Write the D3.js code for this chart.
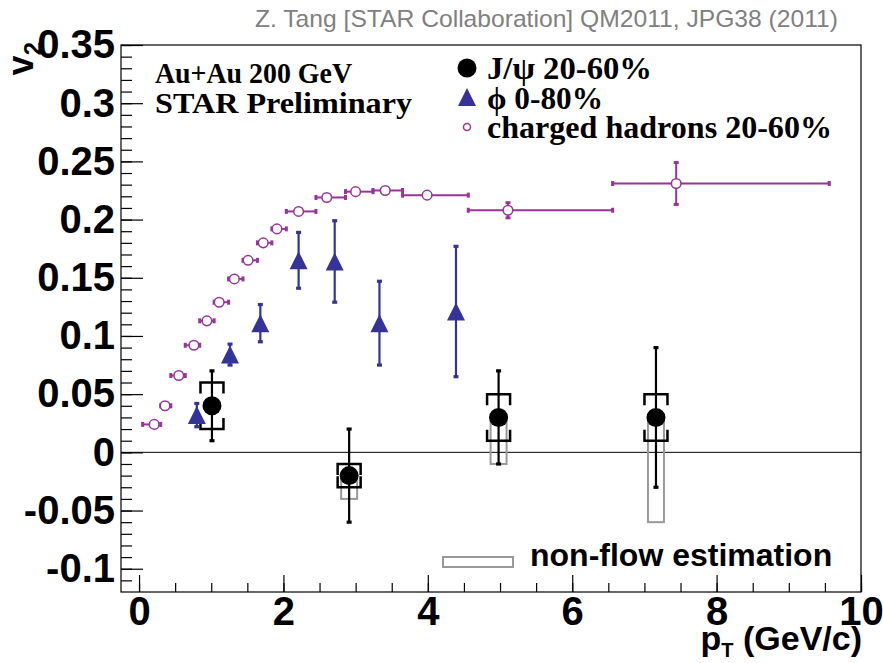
<!DOCTYPE html>
<html>
<head>
<meta charset="utf-8">
<script src="https://cdn.jsdelivr.net/npm/d3@7"></script>
<style>
  body { margin: 0; background: #fff; }
  svg { display: block; }
</style>
</head>
<body>
<script>
// --- charged hadrons 20-60%
var chPt = [0.21, 0.36, 0.55, 0.76, 0.94, 1.11, 1.32, 1.51, 1.72, 1.91, 2.21, 2.60, 3.00, 3.41, 3.99, 5.11, 7.44]
var chV2 = [0.024, 0.040, 0.066, 0.092, 0.113, 0.129, 0.149, 0.165, 0.180, 0.192, 0.207, 0.219, 0.224, 0.225, 0.221, 0.208, 0.231]
var chLo = [0.05, 0.30, 0.44, 0.64, 0.84, 1.04, 1.24, 1.44, 1.64, 1.84, 2.04, 2.45, 2.86, 3.24, 3.65, 4.56, 6.56]
var chHi = [0.30, 0.44, 0.64, 0.84, 1.04, 1.24, 1.44, 1.64, 1.84, 2.04, 2.45, 2.86, 3.24, 3.65, 4.56, 6.56, 9.56]
var chErr = [0.002, 0.002, 0.002, 0.002, 0.002, 0.002, 0.002, 0.002, 0.002, 0.002, 0.002, 0.002, 0.002, 0.002, 0.002, 0.0065, 0.018]

// --- phi 0-80%
var phiPt = [0.80, 1.26, 1.68, 2.21, 2.71, 3.33, 4.39]
var phiV2 = [0.032, 0.084, 0.111, 0.165, 0.164, 0.111, 0.121]
var phiErr = [0.010, 0.009, 0.016, 0.024, 0.035, 0.036, 0.056]

// --- J/psi 20-60%
var jpsiPt = [1.01, 2.91, 4.98, 7.16]
var jpsiV2 = [0.04, -0.02, 0.03, 0.03]
var jpsiErr = [0.03, 0.04, 0.04, 0.06]
var jpsiSys = [0.02, 0.01, 0.02, 0.02]
var nonFlow = [0, 0.02, 0.04, 0.09]

// --- axis ticks
var xTicks = [0, 2, 4, 6, 8, 10]
var yTicks = [-0.1, -0.05, 0, 0.05, 0.1, 0.15, 0.2, 0.25, 0.3, 0.35]
var yLabels = ['-0.1', '-0.05', '0', '0.05', '0.1', '0.15', '0.2', '0.25', '0.3', '0.35']

var W = 883, H = 663
var purple = '#993399', blue = '#333399', grey = '#999'
var sans = 'Liberation Sans, Arial, sans-serif'
var serif = 'Liberation Serif, Times New Roman, serif'

var x = d3.scaleLinear().domain([-0.25, 10]).range([121, 861])
var y = d3.scaleLinear().domain([-0.12, 0.35]).range([592, 45])

var svg = d3.select('body').append('svg')
    .attr('width', W).attr('height', H)

// header
svg.append('text')
    .attr('x', 255).attr('y', 27)
    .attr('textLength', 583).attr('lengthAdjust', 'spacingAndGlyphs')
    .style('font-family', sans)
    .style('font-size', '24px')
    .style('fill', '#808080')
    .text('Z. Tang [STAR Collaboration] QM2011, JPG38 (2011)')

// frame
svg.append('rect')
    .attr('x', x.range()[0]).attr('y', y.range()[1])
    .attr('width', x.range()[1] - x.range()[0])
    .attr('height', y.range()[0] - y.range()[1])
    .attr('fill', 'none').attr('stroke', '#000').attr('stroke-width', 1.2)

// axes, ticks pointing inside
var yMinor = d3.range(-0.11, 0.351, 0.01)
var xMinor = d3.range(0, 10.01, 0.5)

var gy = svg.append('g').attr('transform', 'translate(' + x.range()[0] + ',0)')
gy.call(d3.axisLeft(y).tickValues(yMinor).tickSizeInner(-11).tickSizeOuter(0).tickFormat(''))
gy.append('g').call(d3.axisLeft(y).tickValues(yTicks).tickSizeInner(-22).tickSizeOuter(0).tickPadding(6)
    .tickFormat(function (d, i) { return yLabels[i] }))

var gx = svg.append('g').attr('transform', 'translate(0,' + y.range()[0] + ')')
gx.call(d3.axisBottom(x).tickValues(xMinor).tickSizeInner(-9).tickSizeOuter(0).tickFormat(''))
gx.append('g').call(d3.axisBottom(x).tickValues(xTicks).tickSizeInner(-17).tickSizeOuter(0).tickPadding(5))

svg.selectAll('.domain').remove()
svg.selectAll('.tick line').attr('stroke', '#000').attr('stroke-width', 1.2)
svg.selectAll('.tick text')
    .style('font-family', sans)
    .style('font-weight', 'bold')
    .style('font-size', '40px')
    .attr('fill', '#000')

// axis titles
var xt = svg.append('text')
    .attr('x', 862).attr('y', 650)
    .attr('text-anchor', 'end')
    .style('font-family', sans)
    .style('font-weight', 'bold')
    .style('font-size', '34px')
xt.append('tspan').text('p')
xt.append('tspan').attr('dy', 7).style('font-size', '20px').text('T')
xt.append('tspan').attr('dy', -7).text(' (GeV/c)')

var yt = svg.append('text')
    .attr('transform', 'translate(33,42) rotate(-90)')
    .attr('text-anchor', 'end')
    .style('font-family', sans)
    .style('font-weight', 'bold')
    .style('font-size', '36px')
yt.append('tspan').text('v')
yt.append('tspan').attr('dy', 8).style('font-size', '24px').text('2')

// zero line
svg.append('line')
    .attr('x1', x.range()[0]).attr('x2', x.range()[1])
    .attr('y1', y(0)).attr('y2', y(0))
    .attr('stroke', '#000').attr('stroke-width', 1)

// non-flow boxes
var jp = d3.range(jpsiPt.length)
svg.append('g').selectAll('rect')
    .data(jp.filter(function (i) { return nonFlow[i] > 0 }))
    .enter().append('rect')
    .attr('x', function (i) { return x(jpsiPt[i]) - 8 })
    .attr('y', function (i) { return y(jpsiV2[i]) })
    .attr('width', 16)
    .attr('height', function (i) { return y(jpsiV2[i] - nonFlow[i]) - y(jpsiV2[i]) })
    .attr('fill', 'none').attr('stroke', grey).attr('stroke-width', 2)

// helpers: error bars with caps
function vbar(g, cx, y1, y2, color, w, cap) {
    g.append('line').attr('x1', cx).attr('x2', cx).attr('y1', y1).attr('y2', y2)
        .attr('stroke', color).attr('stroke-width', w)
    ;[y1, y2].forEach(function (yy) {
        g.append('line').attr('x1', cx - cap).attr('x2', cx + cap).attr('y1', yy).attr('y2', yy)
            .attr('stroke', color).attr('stroke-width', w + 1)
    })
}
function hbar(g, cy, x1, x2, color, w, cap) {
    g.append('line').attr('x1', x1).attr('x2', x2).attr('y1', cy).attr('y2', cy)
        .attr('stroke', color).attr('stroke-width', w)
    ;[x1, x2].forEach(function (xx) {
        g.append('line').attr('x1', xx).attr('x2', xx).attr('y1', cy - cap).attr('y2', cy + cap)
            .attr('stroke', color).attr('stroke-width', w + 1)
    })
}
function tri(cx, cy, s) {
    return 'M' + cx + ',' + (cy - s / 2) + 'L' + (cx + s / 2) + ',' + (cy + s / 2) + 'L' + (cx - s / 2) + ',' + (cy + s / 2) + 'Z'
}

// J/psi
var gj = svg.append('g')
jp.forEach(function (i) {
    var cx = x(jpsiPt[i])
    vbar(gj, cx, y(jpsiV2[i] + jpsiErr[i]), y(jpsiV2[i] - jpsiErr[i]), '#000', 2.2, 2.5)
    var yt = y(jpsiV2[i] + jpsiSys[i]), yb = y(jpsiV2[i] - jpsiSys[i])
    gj.append('path')
        .attr('d', 'M' + (cx - 11.5) + ',' + (yt + 11) + 'V' + yt + 'H' + (cx + 11.5) + 'V' + (yt + 11) +
            'M' + (cx - 11.5) + ',' + (yb - 11) + 'V' + yb + 'H' + (cx + 11.5) + 'V' + (yb - 11))
        .attr('fill', 'none').attr('stroke', '#000').attr('stroke-width', 2.5)
    gj.append('circle').attr('cx', cx).attr('cy', y(jpsiV2[i])).attr('r', 9.5).attr('fill', '#000')
})

// phi
var gp = svg.append('g')
phiPt.forEach(function (d, i) {
    var cx = x(d)
    vbar(gp, cx, y(phiV2[i] + phiErr[i]), y(phiV2[i] - phiErr[i]), blue, 2.2, 2.5)
    gp.append('path').attr('d', tri(cx, y(phiV2[i]), 18)).attr('fill', blue)
})

// charged hadrons
var gc = svg.append('g')
chPt.forEach(function (d, i) {
    var cy = y(chV2[i])
    hbar(gc, cy, x(chLo[i]), x(chHi[i]), purple, 2, 2.5)
    vbar(gc, x(d), y(chV2[i] + chErr[i]), y(chV2[i] - chErr[i]), purple, 2, 2.5)
    gc.append('circle').attr('cx', x(d)).attr('cy', cy).attr('r', 4.8)
        .attr('fill', '#fff').attr('stroke', purple).attr('stroke-width', 1.5)
})

// labels
svg.append('text').attr('x', 155).attr('y', 83).text('Au+Au 200 GeV')
    .attr('textLength', 197).attr('lengthAdjust', 'spacingAndGlyphs')
    .style('font-family', serif).style('font-weight', 'bold').style('font-size', '30px')
svg.append('text').attr('x', 155).attr('y', 113).text('STAR Preliminary')
    .attr('textLength', 257).attr('lengthAdjust', 'spacingAndGlyphs')
    .style('font-family', serif).style('font-weight', 'bold').style('font-size', '30px')

// legend
var lg = svg.append('g')
lg.append('circle').attr('cx', 467).attr('cy', 68).attr('r', 9.5).attr('fill', '#000')
lg.append('path').attr('d', tri(467, 97, 18)).attr('fill', blue)
lg.append('circle').attr('cx', 467).attr('cy', 127).attr('r', 3.5)
    .attr('fill', '#fff').attr('stroke', purple).attr('stroke-width', 1.5)
var legText = ['J/\u03c8 20-60%', '\u03d5 0-80%', 'charged hadrons 20-60%']
var legLen = [165, 116, 345]
legText.forEach(function (t, i) {
    lg.append('text').attr('x', 487).attr('y', 79 + i * 29.5).text(t)
        .attr('textLength', legLen[i]).attr('lengthAdjust', 'spacingAndGlyphs')
        .style('font-family', serif).style('font-weight', 'bold').style('font-size', '31px')
})

// non-flow legend
svg.append('rect').attr('x', 443).attr('y', 557).attr('width', 70).attr('height', 10)
    .attr('fill', 'none').attr('stroke', grey).attr('stroke-width', 2)
svg.append('text').attr('x', 530).attr('y', 566).text('non-flow estimation')
    .style('font-family', sans)
    .style('font-weight', 'bold').style('font-size', '32px')
</script>
</body>
</html>
